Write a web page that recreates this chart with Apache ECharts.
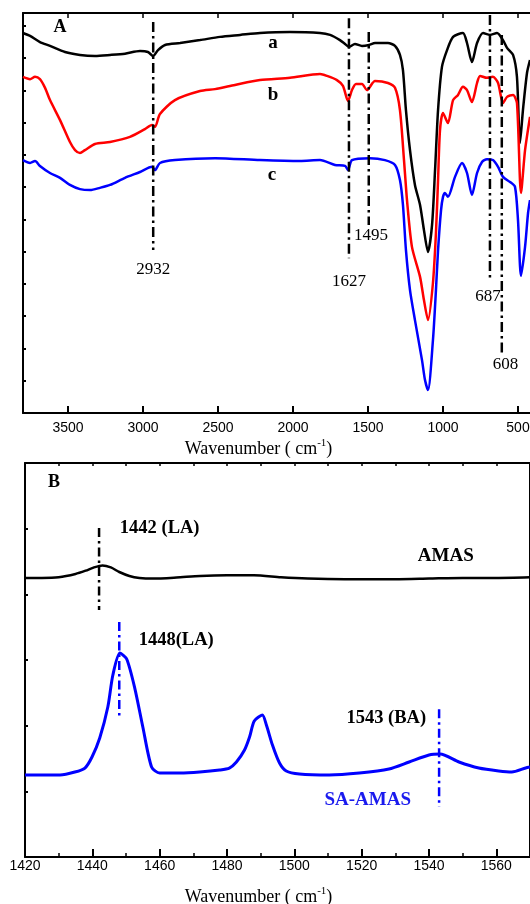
<!DOCTYPE html>
<html>
<head>
<meta charset="utf-8">
<script src="https://cdn.jsdelivr.net/npm/echarts@6/dist/echarts.min.js"></script>
<style>
  html, body { margin: 0; padding: 0; background: #fff; }
  #chart { width: 530px; height: 904px; }
</style>
</head>
<body>
<div id="chart"></div>
<script>
// ---------- Panel A: FT-IR spectra (stacked, arbitrary transmittance units) ----------
const spectrumA = [
  [3800,117.8],[3753,116.9],[3687,115],[3620,113.8],[3520,111.9],[3420,111],[3320,110.7],
  [3220,111],[3120,111.4],[3020,112.2],[2967,111.9],[2933,110.7],[2900,112.5],[2853,114.1],
  [2753,114.7],[2620,115.6],[2487,116.6],[2353,117.2],[2220,117.8],[2020,118.1],[1820,117.8],
  [1753,117.2],[1687,115.6],[1653,114.4],[1627,113.5],[1587,114.4],[1540,113.8],[1493,114.1],
  [1453,114.7],[1367,114.7],[1320,113.8],[1287,111],[1267,106.3],[1247,93.9],[1220,81.5],
  [1187,70.7],[1153,64.5],[1127,56.7],[1100,49.9],[1073,58.3],[1053,75.3],[1033,93.9],
  [1007,107.3],[973,112.5],[933,116.6],[867,117.8],[840,114.7],[807,108.8],[773,114.7],
  [733,117.8],[687,117.2],[640,117.8],[600,115.6],[573,113.2],[533,111],[507,104.2],
  [487,83.7],[467,93.9],[440,105.4],[420,109.4]
];
const spectrumB = [
  [3800,104.2],[3753,103.5],[3720,104.2],[3687,103.5],[3653,100.8],[3620,97],[3553,90.8],
  [3487,84],[3453,81.5],[3420,80.6],[3387,81.5],[3320,83.4],[3220,84],[3087,85.6],[2987,88],
  [2940,89.3],[2920,88.7],[2887,92.7],[2787,97],[2620,99.8],[2520,100.4],[2387,101.7],
  [2220,103.2],[2020,103.9],[1820,105.1],[1773,104.5],[1707,103.2],[1667,101.4],[1633,96.7],
  [1607,100.1],[1580,102],[1540,102],[1507,100.1],[1453,102.9],[1367,102.3],[1320,100.8],
  [1287,93.9],[1260,78.4],[1240,66],[1207,51.5],[1153,42.2],[1127,35],[1100,28.8],[1067,40.3],
  [1047,55.8],[1033,72.2],[1020,87.7],[1000,93],[967,89.9],[933,97],[900,98.6],[867,101.1],
  [840,100.1],[807,96.4],[773,102.3],[753,104.5],[707,103.9],[667,104.2],[633,102.3],
  [600,96.1],[573,98],[533,98.6],[507,96.1],[480,68.2],[453,81.5],[420,91.8]
];
const spectrumC = [
  [3800,78.4],[3753,77.5],[3720,78.1],[3687,76.6],[3620,74.4],[3553,72.9],[3487,70.7],
  [3420,69.4],[3353,69.1],[3287,69.8],[3220,70.7],[3120,72.9],[3020,74.7],[2940,76.3],
  [2920,75.3],[2887,77.5],[2787,78.4],[2520,79],[2220,78.4],[1953,78.1],[1820,78.4],
  [1720,76.9],[1653,76.6],[1633,75.3],[1607,78.4],[1487,79],[1387,78.4],[1320,76.9],
  [1287,72.2],[1267,64.5],[1247,50.5],[1220,38.1],[1187,28.8],[1140,16.4],[1120,10.2],
  [1100,7.1],[1067,22.6],[1047,38.1],[1033,50.5],[1013,62.9],[1000,67],[987,68.2],[967,67],
  [920,73.2],[873,77.5],[840,74.4],[807,67.6],[773,74.4],[740,77.8],[707,78.7],[667,78.4],
  [633,76.3],[600,73.2],[553,71.6],[520,70.1],[500,59.8],[480,42.5],[453,51.5],[433,62],
  [420,66]
];
const irTickValues = [3500, 3000, 2500, 2000, 1500, 1000, 500];
// assigned bands and the vertical extent of their guide lines
const irBands = [2932, 1627, 1495, 687, 608];
const irBandTop = [121.2, 122.4, 118.1, 123.4, 117.2];
const irBandBottom = [50.5, 48, 58.3, 41.2, 18];
const irBandLabelAt = [[2932, 44.6], [1627, 40.9], [1480, 54.9], [700, 36.0], [583, 14.9]];
const curveTags = ['a', 'b', 'c'];
const curveTagAt = [[2133, 114.7], [2133, 98.6], [2140, 73.8]];

// ---------- Panel B: pyridine-adsorbed IR, acid sites ----------
const amas = [
  [1420,4.25],[1425,4.25],[1430,4.26],[1435,4.31],[1438,4.36],[1440.5,4.41],[1443,4.44],
  [1445.5,4.41],[1448,4.34],[1451,4.28],[1454,4.25],[1458,4.24],[1465,4.256],[1472,4.28],
  [1480,4.29],[1488,4.29],[1496,4.26],[1504,4.24],[1515,4.23],[1530,4.23],[1540,4.24],
  [1550,4.25],[1560,4.25],[1570,4.26]
];
const saAmas = [
  [1420,1.249],[1430.4,1.249],[1434.8,1.294],[1437.8,1.355],[1439.9,1.523],[1442.2,1.812],
  [1444.6,2.284],[1446.1,2.771],[1448.2,3.106],[1450.2,3.015],[1452.6,2.573],[1455,1.98],
  [1457.6,1.37],[1460,1.279],[1466,1.279],[1471.9,1.294],[1477.8,1.325],[1480.7,1.355],
  [1482.8,1.447],[1485.2,1.629],[1486.7,1.827],[1488.1,2.071],[1490.5,2.162],[1491.7,2.01],
  [1493.5,1.705],[1495.6,1.431],[1497.6,1.31],[1501.5,1.264],[1510.4,1.249],[1519.3,1.279],
  [1528.1,1.34],[1534.1,1.447],[1540,1.553],[1543.3,1.568],[1548.9,1.447],[1554.8,1.355],
  [1560.7,1.31],[1564.6,1.294],[1568.7,1.355],[1570,1.37]
];
const pyBands = [1442, 1448, 1543];
const pyBandTop = [5.01, 3.58, 2.25];
const pyBandBottom = [3.76, 2.12, 0.76];
const pyBandNames = ['1442 (LA)', '1448(LA)', '1543 (BA)'];
const pyBandLabelAt = [[1460, 5.01], [1464.9, 3.30], [1527.3, 2.12]];
const pyBandColors = ['#000000', '#0000ff', '#0000ff'];
const sampleNames = ['AMAS', 'SA-AMAS'];
const sampleNameAt = [[1545, 4.58], [1521.8, 0.87]];

const SERIF = '"Liberation Serif", "Times New Roman", serif';
const SANS = '"Liberation Sans", Arial, sans-serif';
const BLACK = '#000000', RED = '#ff0000', BLUE = '#0000ff';

const chart = echarts.init(document.getElementById('chart'), null, { renderer: 'canvas' });

const axisLineStyle = { onZero: false, lineStyle: { color: BLACK, width: 2 } };
const wavenumberName = '{n|Wavenumber ( cm}{s|-1}{n|)}';
const nameRich = {
  n: { fontFamily: SERIF, fontSize: 18, color: BLACK, lineHeight: 20, verticalAlign: 'bottom' },
  s: { fontFamily: SERIF, fontSize: 11, color: BLACK, lineHeight: 20, verticalAlign: 'top' }
};

function curve(data, color, xi, yi, width) {
  return {
    type: 'line', data, xAxisIndex: xi, yAxisIndex: yi, symbol: 'none', smooth: 0.25,
    lineStyle: { color, width }, silent: true, z: 3
  };
}
function guide(x, top, bottom, color, xi, yi, width, dash) {
  return {
    type: 'line', data: [[x, top], [x, bottom]], xAxisIndex: xi, yAxisIndex: yi,
    symbol: 'none', lineStyle: { color, width, type: dash }, silent: true, z: 4
  };
}
function textItem(pos, text, size, weight, color, family) {
  return {
    value: pos, name: text,
    label: { show: true, position: 'inside', formatter: '{b}', fontSize: size,
      fontWeight: weight, color, fontFamily: family, opacity: 1 }
  };
}

const series = [
  curve(spectrumA, BLACK, 0, 0, 2.5),
  curve(spectrumB, RED, 0, 0, 2.5),
  curve(spectrumC, BLUE, 0, 0, 2.5),
  curve(amas, BLACK, 2, 1, 2.5),
  curve(saAmas, BLUE, 2, 1, 3)
];
irBands.forEach((wn, i) => {
  series.push(guide(wn, irBandTop[i], irBandBottom[i], BLACK, 0, 0, 2.5, [10, 4, 2.5, 4]));
});
pyBands.forEach((wn, i) => {
  series.push(guide(wn, pyBandTop[i], pyBandBottom[i], pyBandColors[i], 2, 1, 2.5, [9, 4, 2.5, 4]));
});

// text annotations for panel A
const textA = [textItem([3553, 119.7], 'A', 18, 'bold', BLACK, SERIF)];
curveTags.forEach((t, i) => textA.push(textItem(curveTagAt[i], t, 19, 'bold', BLACK, SERIF)));
irBands.forEach((wn, i) => textA.push(textItem(irBandLabelAt[i], String(wn), 17, 'normal', BLACK, SERIF)));
series.push({
  type: 'scatter', xAxisIndex: 0, yAxisIndex: 0, symbolSize: 1,
  itemStyle: { color: 'transparent', opacity: 1 }, data: textA, silent: true, z: 6
});

// text annotations for panel B
const textB = [textItem([1428.6, 5.71], 'B', 18, 'bold', BLACK, SERIF)];
pyBands.forEach((wn, i) => textB.push(textItem(pyBandLabelAt[i], pyBandNames[i], 18.5, 'bold', BLACK, SERIF)));
textB.push(textItem(sampleNameAt[0], sampleNames[0], 19, 'bold', BLACK, SERIF));
textB.push(textItem(sampleNameAt[1], sampleNames[1], 19, 'bold', '#1a1aee', SERIF));
series.push({
  type: 'scatter', xAxisIndex: 2, yAxisIndex: 1, symbolSize: 1,
  itemStyle: { color: 'transparent', opacity: 1 }, data: textB, silent: true, z: 6
});

chart.setOption({
  animation: false,
  backgroundColor: '#ffffff',
  grid: [
    { left: 23, top: 13, width: 570, height: 400, outerBoundsMode: 'none', containLabel: false },
    { left: 25, top: 463, width: 505, height: 394, outerBoundsMode: 'none', containLabel: false }
  ],
  xAxis: [
    {
      gridIndex: 0, type: 'value', inverse: true, min: 0, max: 3800, interval: 500,
      position: 'bottom', axisLine: axisLineStyle,
      axisTick: { inside: true, length: 7, lineStyle: { color: BLACK, width: 2 } },
      axisLabel: { fontFamily: SANS, fontSize: 14, color: BLACK, margin: 8, showMaxLabel: false,
        formatter: v => irTickValues.includes(v) ? String(v) : '' },
      splitLine: { show: false },
      name: wavenumberName, nameLocation: 'middle', nameGap: 25,
      nameTextStyle: { rich: nameRich, padding: [0, 99, 0, 0] }
    },
    {
      gridIndex: 0, type: 'value', inverse: true, min: 0, max: 3800, interval: 500,
      position: 'top', axisLine: axisLineStyle,
      axisTick: { inside: true, length: 5, lineStyle: { color: BLACK, width: 1.5 } },
      axisLabel: { show: false }, splitLine: { show: false }
    },
    {
      gridIndex: 1, type: 'value', min: 1420, max: 1570, interval: 20,
      position: 'bottom', axisLine: axisLineStyle,
      axisTick: { inside: true, length: 8, lineStyle: { color: BLACK, width: 2 } },
      minorTick: { show: true, splitNumber: 2, length: 4, lineStyle: { color: BLACK, width: 1.5 } },
      axisLabel: { fontFamily: SANS, fontSize: 14, color: BLACK, margin: 2, showMaxLabel: false,
        formatter: v => String(v) },
      splitLine: { show: false }, minorSplitLine: { show: false },
      name: wavenumberName, nameLocation: 'middle', nameGap: 29,
      nameTextStyle: { rich: nameRich, padding: [0, 38, 0, 0] }
    },
    {
      gridIndex: 1, type: 'value', min: 1420, max: 1570, interval: 10,
      position: 'top', axisLine: axisLineStyle,
      axisTick: { inside: true, length: 3, lineStyle: { color: BLACK, width: 1.5 } },
      axisLabel: { show: false }, splitLine: { show: false }
    }
  ],
  yAxis: [
    {
      gridIndex: 0, type: 'value', min: 0, max: 124, interval: 10, position: 'left',
      axisLine: axisLineStyle,
      axisTick: { inside: true, length: 3, lineStyle: { color: BLACK, width: 2 } },
      axisLabel: { show: false }, splitLine: { show: false }
    },
    {
      gridIndex: 1, type: 'value', min: 0, max: 6, interval: 1, position: 'left',
      axisLine: axisLineStyle,
      axisTick: { inside: true, length: 3, lineStyle: { color: BLACK, width: 2 } },
      axisLabel: { show: false }, splitLine: { show: false }
    },
    {
      gridIndex: 1, type: 'value', min: 0, max: 6, interval: 1, position: 'right',
      axisLine: axisLineStyle, axisTick: { show: false },
      axisLabel: { show: false }, splitLine: { show: false }
    }
  ],
  series
});
</script>
</body>
</html>
